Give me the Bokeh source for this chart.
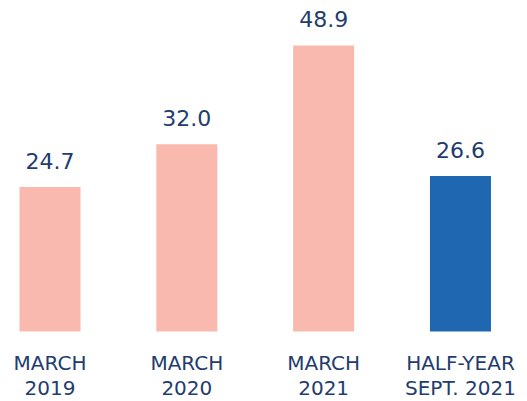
from bokeh.plotting import figure
from bokeh.models import Range1d, ColumnDataSource
from bokeh.core.properties import value
from bokeh.embed import file_html
from bokeh.resources import INLINE

categories = ["MARCH\n2019", "MARCH\n2020", "MARCH\n2021", "HALF-YEAR\nSEPT. 2021"]
values = [24.7, 32.0, 48.9, 26.6]
colors = ["#f9b9af", "#f9b9af", "#f9b9af", "#1f67b1"]

FONT = "DejaVu Sans"
TEXT_COLOR = "#233c6e"

idx = list(range(len(categories)))
src = ColumnDataSource(dict(
    x=idx, top=values, base=[0] * len(values), color=colors,
    label=[f"{v:.1f}" for v in values], cat=categories,
))

p = figure(width=527, height=401, output_backend="svg", toolbar_location=None,
           x_range=Range1d(-0.362, 3.490), y_range=Range1d(-11.97, 56.58),
           min_border_left=0, min_border_right=0, min_border_top=0, min_border_bottom=0)
p.vbar(x="x", top="top", bottom="base", width=0.446, color="color", line_color=None, source=src)
p.text(x="x", y="top", text="label", source=src, text_align="center",
       text_baseline="bottom", y_offset=-18, text_font=value(FONT),
       text_font_size="22px", text_color=TEXT_COLOR)
p.text(x="x", y="base", text="cat", source=src, text_align="center",
       text_baseline="top", y_offset=20, text_font=value(FONT),
       text_font_size="20px", text_color=TEXT_COLOR, text_line_height=1.03)

p.axis.visible = False
p.xgrid.visible = False
p.ygrid.visible = False
p.outline_line_color = None

open("out.html", "w").write(file_html(p, INLINE))
